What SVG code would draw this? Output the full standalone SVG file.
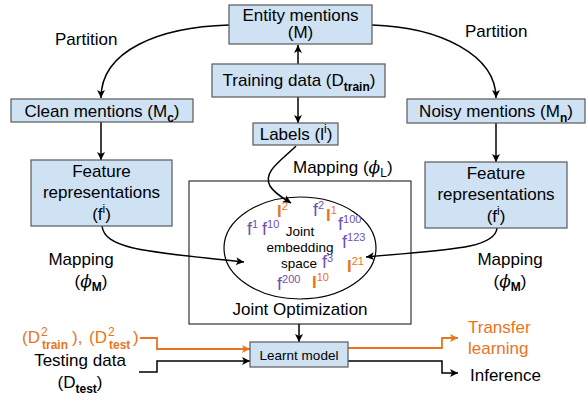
<svg xmlns="http://www.w3.org/2000/svg" width="588" height="403" viewBox="0 0 588 403">
<defs>
<marker id="ah" markerUnits="userSpaceOnUse" markerWidth="10" markerHeight="8" refX="8" refY="4" orient="auto"><path d="M0,0 L8,4 L0,8 L2,4 Z" fill="#000"/></marker>
<marker id="aho" markerUnits="userSpaceOnUse" markerWidth="10" markerHeight="8" refX="8" refY="4" orient="auto"><path d="M0,0 L8,4 L0,8 L2,4 Z" fill="#e8741e"/></marker>
</defs>
<style>
text{font-family:"Liberation Sans",Arial,sans-serif;fill:#000;}
.t{font-size:17px;}
.s{font-size:12px;}
.e{font-size:11px;}
.b{font-weight:bold;}
.box{fill:#cfe2f3;stroke:#595959;stroke-width:1.2;}
.c{fill:none;stroke:#000;stroke-width:1.5;}
.co{fill:none;stroke:#e8741e;stroke-width:1.8;}
.o{fill:#e8741e;}
.p{fill:#7050b0;font-size:18px;}
.l{fill:#e8741e;font-size:17px;font-weight:bold;}
.phi{font-family:"DejaVu Serif",serif;font-style:italic;}
</style>

<g id="joint-optimization">
<rect x="189" y="181" width="222" height="143" fill="none" stroke="#333" stroke-width="1.2"/>
<text class="t" x="300" y="315" text-anchor="middle">Joint Optimization</text>
</g>

<g id="connectors">
<path class="c" d="M229,25 C160,27 101,50 101,98" marker-end="url(#ah)"/>
<path class="c" d="M372,25 C440,27 496,55 496,98" marker-end="url(#ah)"/>
<line class="c" x1="298" y1="64" x2="298" y2="45" marker-end="url(#ah)"/>
<line class="c" x1="298" y1="97" x2="298" y2="123" marker-end="url(#ah)"/>
<line class="c" x1="101" y1="122" x2="101" y2="160" marker-end="url(#ah)"/>
<line class="c" x1="496" y1="123" x2="496" y2="162" marker-end="url(#ah)"/>
<path class="c" d="M296,146 C282,160 262,172 270,186 C275,194 283,198 291,203" marker-end="url(#ah)"/>
<path class="c" d="M102,226 C105,250 150,252 244,262" marker-end="url(#ah)"/>
<path class="c" d="M497,228 C495,250 440,250 366,257" marker-end="url(#ah)"/>
<line class="c" x1="299" y1="324" x2="299" y2="342" marker-end="url(#ah)"/>
<polyline class="co" points="140,338 157,338 157,349 250,349" marker-end="url(#aho)"/>
<polyline class="c" points="139,372 157,372 157,361 250,361" marker-end="url(#ah)"/>
<polyline class="co" points="348,348 442,348 442,338 458,338" marker-end="url(#aho)"/>
<polyline class="c" points="348,361 442,361 442,373 458,373" marker-end="url(#ah)"/>
</g>

<g id="entity">
<rect class="box" x="229" y="5" width="143" height="39"/>
<text class="t" x="300.5" y="21" text-anchor="middle">Entity mentions</text>
<text class="t" x="300.5" y="38" text-anchor="middle">(M)</text>
</g>

<g id="training">
<rect class="box" x="212" y="64" width="173" height="33"/>
<text class="t" x="299" y="86" text-anchor="middle">Training data (D<tspan class="s b" dy="5">train</tspan><tspan dy="-5">)</tspan></text>
</g>

<g id="labels">
<rect class="box" x="253" y="123" width="85" height="22"/>
<text class="t" x="296" y="140" text-anchor="middle">Labels (l<tspan class="s" dy="-7">i</tspan><tspan dy="7">)</tspan></text>
</g>

<g id="clean">
<rect class="box" x="11" y="99" width="182" height="23"/>
<text class="t" x="102" y="117" text-anchor="middle">Clean mentions (M<tspan class="s b" dy="5">c</tspan><tspan dy="-5">)</tspan></text>
</g>

<g id="noisy">
<rect class="box" x="407" y="99" width="178" height="24"/>
<text class="t" x="496" y="117" text-anchor="middle">Noisy mentions (M<tspan class="s b" dy="5">n</tspan><tspan dy="-5">)</tspan></text>
</g>

<g id="feature-left">
<rect class="box" x="31" y="160" width="141" height="66"/>
<text class="t" x="101.5" y="177" text-anchor="middle">Feature</text>
<text class="t" x="101.5" y="198" text-anchor="middle">representations</text>
<text class="t" x="101.5" y="220" text-anchor="middle">(f<tspan class="s" dy="-7">i</tspan><tspan dy="7">)</tspan></text>
</g>

<g id="feature-right">
<rect class="box" x="425" y="162" width="142" height="66"/>
<text class="t" x="496" y="179" text-anchor="middle">Feature</text>
<text class="t" x="496" y="200" text-anchor="middle">representations</text>
<text class="t" x="496" y="222" text-anchor="middle">(f<tspan class="s" dy="-7">i</tspan><tspan dy="7">)</tspan></text>
</g>

<g id="embedding-space">
<ellipse cx="300" cy="248" rx="76" ry="51" fill="none" stroke="#000" stroke-width="1.2"/>
<text x="300" y="236" text-anchor="middle" font-size="13.5">Joint</text>
<text x="300" y="252" text-anchor="middle" font-size="13.5">embedding</text>
<text x="299" y="268" text-anchor="middle" font-size="13.5">space</text>
<text class="l" x="277" y="217">l<tspan class="e" font-weight="normal" dy="-7">2</tspan></text>
<text class="p" x="313" y="216">f<tspan class="e" dy="-7">2</tspan></text>
<text class="l" x="326" y="221">l<tspan class="e" font-weight="normal" dy="-7">1</tspan></text>
<text class="p" x="247" y="235">f<tspan class="e" dy="-7">1</tspan></text>
<text class="p" x="262" y="235">f<tspan class="e" dy="-7">10</tspan></text>
<text class="p" x="338" y="230">f<tspan class="e" dy="-7">100</tspan></text>
<text class="p" x="342" y="248">f<tspan class="e" dy="-7">123</tspan></text>
<text class="p" x="322" y="268">f<tspan class="e" dy="-6">3</tspan></text>
<text class="l" x="347" y="272">l<tspan class="e" font-weight="normal" dy="-7">21</tspan></text>
<text class="p" x="277" y="290">f<tspan class="e" dy="-7">200</tspan></text>
<text class="l" x="312" y="288">l<tspan class="e" font-weight="normal" dy="-7">10</tspan></text>
</g>

<g id="learnt-model">
<rect class="box" x="250" y="342" width="98" height="25"/>
<text x="299" y="360" text-anchor="middle" font-size="13.5">Learnt model</text>
</g>

<g id="labels-text">
<text class="t" x="55" y="45">Partition</text>
<text class="t" x="465" y="37">Partition</text>
<text class="t" x="293" y="173">Mapping (<tspan class="phi">ϕ</tspan><tspan class="s" dy="4">L</tspan><tspan dy="-4">)</tspan></text>
<text class="t" x="81" y="265" text-anchor="middle">Mapping</text>
<text class="t" x="91" y="287" text-anchor="middle">(<tspan class="phi">ϕ</tspan><tspan class="s b" dy="4">M</tspan><tspan dy="-4">)</tspan></text>
<text class="t" x="510" y="265" text-anchor="middle">Mapping</text>
<text class="t" x="510" y="287" text-anchor="middle">(<tspan class="phi">ϕ</tspan><tspan class="s b" dy="4">M</tspan><tspan dy="-4">)</tspan></text>
<text class="t o" x="22" y="343">(D</text>
<text class="s o" x="41" y="336">2</text>
<text class="s b o" x="42" y="349">train</text>
<text class="t o" x="72" y="343">),</text>
<text class="t o" x="89" y="343">(D</text>
<text class="s o" x="108" y="336">2</text>
<text class="s b o" x="109" y="349">test</text>
<text class="t o" x="133" y="343">)</text>
<text class="t" x="80" y="366" text-anchor="middle">Testing data</text>
<text class="t" x="80" y="388" text-anchor="middle">(D<tspan class="s b" dy="5">test</tspan><tspan dy="-5">)</tspan></text>
<text class="t o" x="468" y="333">Transfer</text>
<text class="t o" x="468" y="354">learning</text>
<text class="t" x="470" y="381">Inference</text>
</g>
</svg>
